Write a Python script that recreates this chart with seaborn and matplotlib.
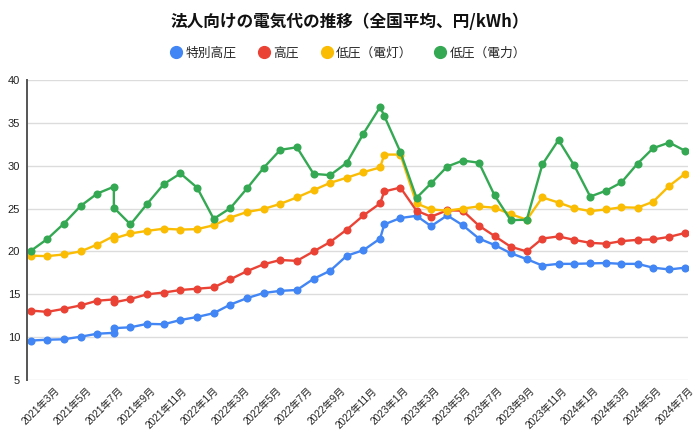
import matplotlib
matplotlib.use('Agg')
import matplotlib.pyplot as plt
import matplotlib.dates as mdates
import matplotlib.ticker as mticker
import matplotlib.transforms as mtransforms
from matplotlib.lines import Line2D
import seaborn as sns
import pandas as pd

# ---- data ----
dates = [
    '2021-01-20', '2021-02-21', '2021-03-25', '2021-04-26', '2021-05-28',
    '2021-06-29', '2021-06-29', '2021-07-31', '2021-09-01', '2021-10-03',
    '2021-11-04', '2021-12-06', '2022-01-07', '2022-02-08', '2022-03-12',
    '2022-04-13', '2022-05-15', '2022-06-16', '2022-07-18', '2022-08-19',
    '2022-09-20', '2022-10-22', '2022-11-23', '2022-12-01', '2023-01-01',
    '2023-02-01', '2023-03-01', '2023-04-01', '2023-05-01', '2023-06-01',
    '2023-07-01', '2023-08-01', '2023-09-01', '2023-10-01', '2023-11-01',
    '2023-12-01', '2024-01-01', '2024-02-01', '2024-03-01', '2024-04-01',
    '2024-05-01', '2024-06-01', '2024-07-01',
]
series_names = ['特別高圧', '高圧', '低圧（電灯）', '低圧（電力）']
tokubetsu_kouatsu = [
    9.6, 9.7, 9.75, 10.05, 10.4, 10.5, 11.05, 11.15, 11.55, 11.5,
    12.0, 12.35, 12.8, 13.8, 14.55, 15.15, 15.4, 15.5, 16.8, 17.75,
    19.5, 20.15, 21.5, 23.15, 23.9, 24.15, 22.95, 24.2, 23.05, 21.5,
    20.75, 19.8, 19.1, 18.35, 18.55, 18.55, 18.6, 18.65, 18.55, 18.55,
    18.1, 17.9, 18.1,
]
kouatsu = [
    13.1, 12.95, 13.3, 13.7, 14.25, 14.4, 14.05, 14.45, 15.0, 15.2,
    15.5, 15.65, 15.8, 16.75, 17.7, 18.5, 19.0, 18.9, 20.0, 21.1,
    22.55, 24.2, 25.6, 27.0, 27.45, 24.75, 24.05, 24.8, 24.75, 23.0,
    21.8, 20.55, 20.0, 21.5, 21.75, 21.35, 21.0, 20.9, 21.2, 21.35,
    21.4, 21.7, 22.15,
]
teiatsu_dentou = [
    19.5, 19.45, 19.65, 20.0, 20.8, 21.8, 21.5, 22.1, 22.4, 22.65,
    22.55, 22.6, 23.05, 23.95, 24.6, 24.95, 25.55, 26.3, 27.15, 28.0,
    28.6, 29.25, 29.8, 31.3, 31.3, 25.6, 24.9, 24.75, 25.0, 25.25,
    25.1, 24.35, 23.7, 26.3, 25.7, 25.05, 24.7, 24.9, 25.15, 25.1,
    25.8, 27.65, 29.05,
]
teiatsu_douryoku = [
    20.05, 21.45, 23.25, 25.3, 26.75, 27.55, 25.1, 23.15, 25.55, 27.85,
    29.1, 27.45, 23.8, 25.05, 27.35, 29.75, 31.85, 32.15, 29.05, 28.9,
    30.35, 33.75, 36.85, 35.8, 31.6, 26.25, 27.95, 29.9, 30.6, 30.35,
    26.55, 23.65, 23.7, 30.15, 33.0, 30.05, 26.4, 27.1, 28.05, 30.25,
    32.05, 32.7, 31.75,
]
y_ticks = [5, 10, 15, 20, 25, 30, 35, 40]
title = '法人向けの電気代の推移（全国平均、円/kWh）'
colors = ['#4285F4', '#EA4335', '#FBBC04', '#34A853']

# ---- long table ----
values = [tokubetsu_kouatsu, kouatsu, teiatsu_dentou, teiatsu_douryoku]
rows = []
for name, vals in zip(series_names, values):
    for i, (d, v) in enumerate(zip(dates, vals)):
        rows.append({'date': pd.Timestamp(d), 'value': v, 'series': name, 'order': i})
df = pd.DataFrame(rows)

sns.set_theme(style='white')
plt.rcParams['font.family'] = ['Liberation Sans', 'Noto Sans CJK JP', 'DejaVu Sans']

fig = plt.figure(figsize=(7, 4.3), dpi=100)
ax = fig.add_axes([27 / 700, 50 / 430, 661 / 700, 300 / 430])

sns.lineplot(data=df, x='date', y='value', hue='series', hue_order=series_names,
             palette=colors, marker='o', markersize=5.8, markeredgewidth=0,
             linewidth=1.7, estimator=None, sort=False, legend=False, ax=ax)

ax.set_ylim(5, 40)
ax.set_yticks(y_ticks)
ax.set_xlim(pd.Timestamp('2021-01-13'), pd.Timestamp('2024-07-07'))
ax.xaxis.set_major_locator(mdates.MonthLocator(bymonth=[1, 3, 5, 7, 9, 11]))
ax.xaxis.set_major_formatter(mticker.FuncFormatter(
    lambda x, pos: f"{mdates.num2date(x).year}年{mdates.num2date(x).month}月"))
ax.set_xlabel('')
ax.set_ylabel('')

ax.yaxis.grid(True, color='#dcdcdc', linewidth=1)
ax.xaxis.grid(False)
for s in ['top', 'right', 'bottom']:
    ax.spines[s].set_visible(False)
ax.spines['left'].set_color('#555555')
ax.spines['left'].set_linewidth(1.4)

ax.tick_params(axis='y', length=0, pad=5, labelsize=8, labelcolor='#222222')
ax.tick_params(axis='x', length=0, pad=4, labelsize=7.3, labelcolor='#222222')
offset = mtransforms.ScaledTranslation(3 / 100, 0, fig.dpi_scale_trans)
for lab in ax.get_xticklabels():
    lab.set_rotation(45)
    lab.set_ha('right')
    lab.set_va('top')
    lab.set_rotation_mode('anchor')
    lab.set_transform(lab.get_transform() + offset)

fig.text(0.5, 1 - 22 / 430, title, ha='center', va='center', fontsize=12,
         fontweight='bold', family=['Noto Sans CJK JP', 'DejaVu Sans'], color='#111111')

handles = [Line2D([], [], marker='o', linestyle='', color=c, markersize=8.5)
           for c in colors]
fig.legend(handles, series_names, loc='center', bbox_to_anchor=(0.497, 1 - 53 / 430),
           ncol=4, frameon=False, handletextpad=0.2,
           columnspacing=1.7, handlelength=1.0,
           prop={'family': ['Noto Sans CJK JP', 'DejaVu Sans'], 'size': 9.2})

fig.savefig('out.png', dpi=100)
